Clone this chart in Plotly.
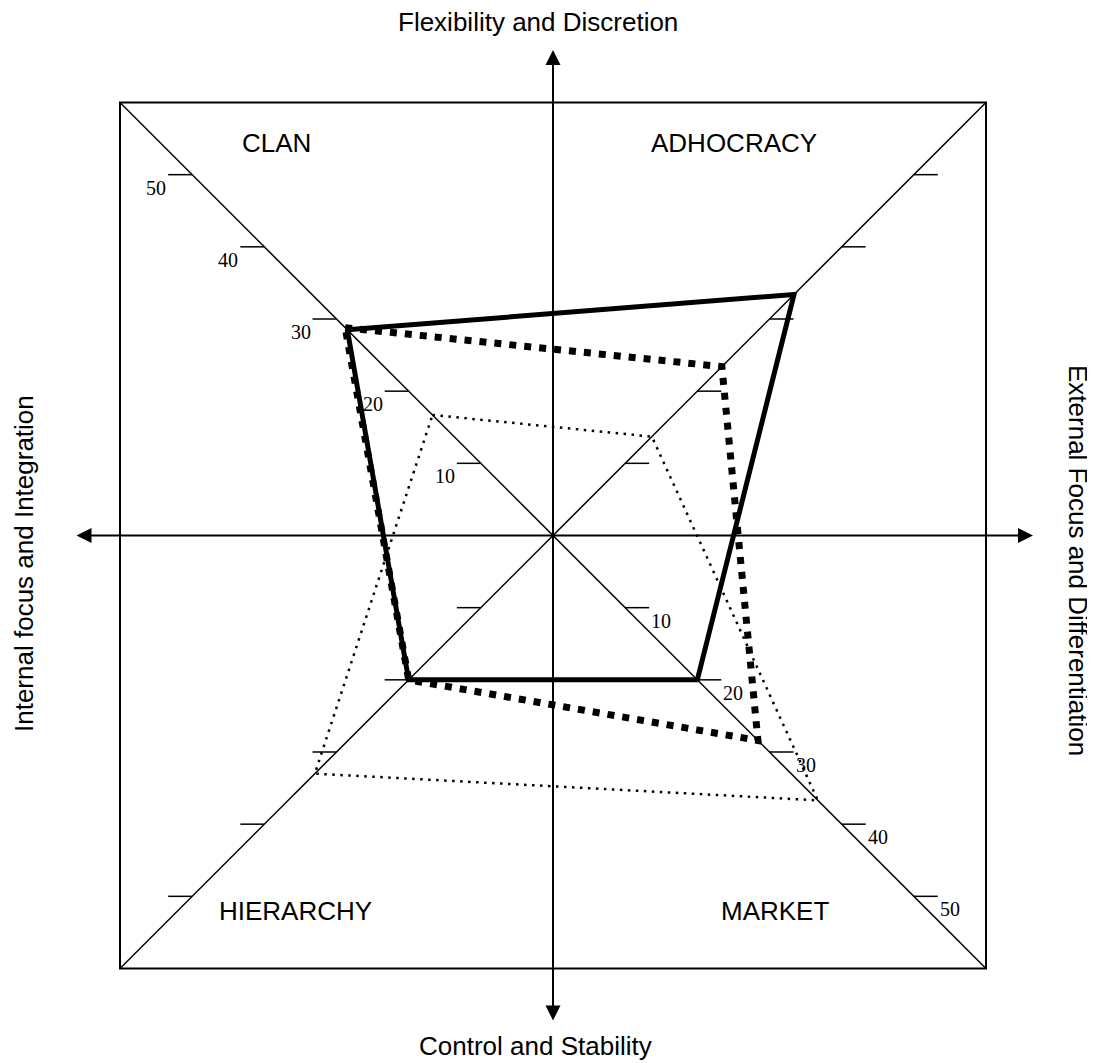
import plotly.graph_objects as go

# ---------------- data ----------------
quadrants = ["CLAN", "ADHOCRACY", "MARKET", "HIERARCHY"]
solid_values = [28.5, 33.4, 20.0, 20.0]
dashed_values = [28.8, 23.4, 28.4, 20.0]
dotted_values = [16.7, 13.7, 36.7, 33.0]
tick_values = [10, 20, 30, 40, 50]
tick_labels = ["10", "20", "30", "40", "50"]
labelled_diagonals = ["CLAN", "MARKET"]
axis_top = "Flexibility and Discretion"
axis_bottom = "Control and Stability"
axis_left = "Internal focus and Integration"
axis_right = "External Focus and Differentiation"

# ---------------- geometry / style ----------------
W, H = 1095, 1063
PAGE_OFF = 8.0                 # default body margin of the html page
CX, CY = 553.0, 535.5          # page-pixel position of the origin
FRAME = 60.0                   # half size of square (units)
PX = 433.0 / FRAME             # pixels per unit
TICK_LEN = 24.0 / PX
DIRS = {"CLAN": (-1, 1), "ADHOCRACY": (1, 1), "MARKET": (1, -1), "HIERARCHY": (-1, -1)}
SANS = "Liberation Sans, Arial, sans-serif"
SERIF = "Liberation Serif, Times New Roman, serif"


def ux(px):
    return (px - CX) / PX


def uy(py):
    return (CY - py) / PX


def polygon(values):
    xs, ys = [], []
    for q, v in zip(quadrants + quadrants[:1], values + values[:1]):
        dx, dy = DIRS[q]
        xs.append(dx * v)
        ys.append(dy * v)
    return xs, ys


fig = go.Figure()

series = [
    (dotted_values, dict(color="black", width=2.5, dash="2.5px,5.5px")),
    (dashed_values, dict(color="black", width=7, dash="7px,8px")),
    (solid_values, dict(color="black", width=5)),
]
for vals, line in series:
    xs, ys = polygon(vals)
    fig.add_trace(go.Scatter(x=xs, y=ys, mode="lines", line=line,
                             hoverinfo="skip", showlegend=False))

shapes = []
# frame
shapes.append(dict(type="rect", x0=-FRAME, x1=FRAME, y0=-FRAME, y1=FRAME,
                   line=dict(color="black", width=2), layer="below"))
# diagonals
shapes.append(dict(type="line", x0=-FRAME, y0=-FRAME, x1=FRAME, y1=FRAME,
                   line=dict(color="black", width=1.5), layer="below"))
shapes.append(dict(type="line", x0=-FRAME, y0=FRAME, x1=FRAME, y1=-FRAME,
                   line=dict(color="black", width=1.5), layer="below"))

annotations = []
# ticks on every diagonal, labels on two
for q in quadrants:
    dx, dy = DIRS[q]
    for v, lab in zip(tick_values, tick_labels):
        x_in = dx * v
        x_out = dx * (v + TICK_LEN)
        y = dy * v
        shapes.append(dict(type="line", x0=x_in, x1=x_out, y0=y, y1=y,
                           line=dict(color="black", width=1.5), layer="below"))
        if q in labelled_diagonals:
            off_x = (12.0 / PX) * dx
            annotations.append(dict(x=x_out + off_x, y=y - 13.0 / PX, text=lab,
                                    showarrow=False, xref="x", yref="y",
                                    font=dict(family=SERIF, size=20, color="black")))

# axes arrows
V_TIP_T, V_TIP_B = uy(50), uy(1022)
H_TIP_L, H_TIP_R = ux(75), ux(1033)
for (x0, y0, x1, y1) in [(0, V_TIP_B, 0, V_TIP_T), (H_TIP_L, 0, H_TIP_R, 0)]:
    annotations.append(dict(x=x1, y=y1, ax=x0, ay=y0, xref="x", yref="y",
                            axref="x", ayref="y", text="", showarrow=True,
                            arrowhead=2, startarrowhead=2, arrowside="end+start",
                            arrowwidth=2, arrowsize=1.5, startarrowsize=1.5,
                            arrowcolor="black", standoff=0, startstandoff=0))

# quadrant labels
quad_pos = {"CLAN": (276, 143), "ADHOCRACY": (734, 143),
            "HIERARCHY": (295, 911), "MARKET": (775, 911)}
for q in quadrants:
    px, py = quad_pos[q]
    annotations.append(dict(x=ux(px), y=uy(py), text=q, showarrow=False,
                            font=dict(family=SANS, size=26, color="black")))

# axis titles
annotations.append(dict(x=ux(538), y=uy(22), text=axis_top, showarrow=False,
                        font=dict(family=SANS, size=26, color="black")))
annotations.append(dict(x=ux(535), y=uy(1046), text=axis_bottom, showarrow=False,
                        font=dict(family=SANS, size=26, color="black")))
annotations.append(dict(x=ux(24), y=uy(564), text=axis_left, showarrow=False,
                        textangle=-90,
                        font=dict(family=SANS, size=26, color="black")))
annotations.append(dict(x=ux(1078), y=uy(560), text=axis_right, showarrow=False,
                        textangle=90,
                        font=dict(family=SANS, size=26, color="black")))

fig.update_layout(
    width=W, height=H, autosize=False,
    margin=dict(l=0, r=0, t=0, b=0),
    paper_bgcolor="white", plot_bgcolor="white",
    xaxis=dict(range=[ux(PAGE_OFF), ux(PAGE_OFF + W)], visible=False, fixedrange=True),
    yaxis=dict(range=[uy(PAGE_OFF + H), uy(PAGE_OFF)], visible=False, fixedrange=True),
    shapes=shapes, annotations=annotations, showlegend=False,
)

fig.write_html("out.html")
